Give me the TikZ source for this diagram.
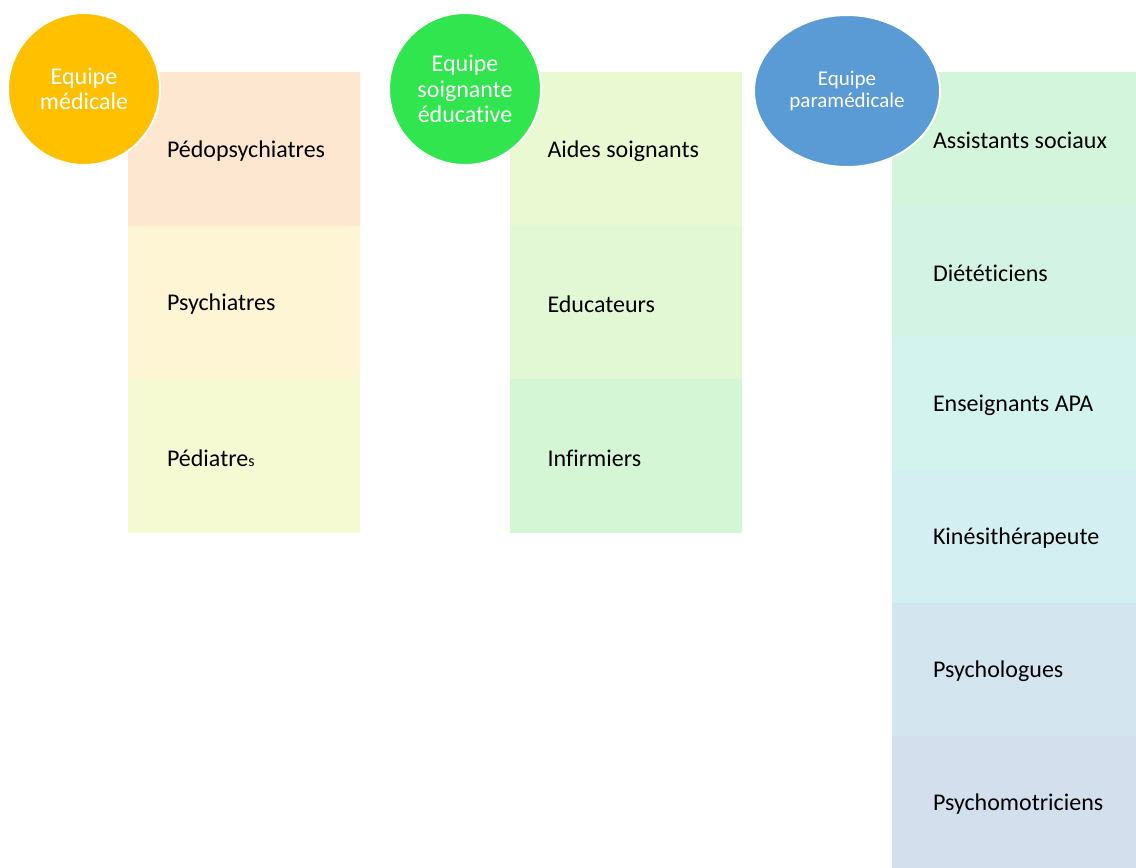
\documentclass[tikz,border=0pt]{standalone}
\usepackage{fontspec}
\setmainfont{Carlito}[Ligatures={NoCommon}]
\usetikzlibrary{shapes.geometric}
\definecolor{cA1}{HTML}{FDE7D0}
\definecolor{cA2}{HTML}{FDF5D3}
\definecolor{cA3}{HTML}{F5FAD2}
\definecolor{cB1}{HTML}{EBF9D3}
\definecolor{cB2}{HTML}{E2F7D4}
\definecolor{cB3}{HTML}{D5F6D5}
\definecolor{cC1}{HTML}{D3F5DC}
\definecolor{cC2}{HTML}{D3F4E4}
\definecolor{cC3}{HTML}{D3F3EE}
\definecolor{cC4}{HTML}{D3EFF2}
\definecolor{cC5}{HTML}{D3E6F0}
\definecolor{cC6}{HTML}{D4DFEE}
\definecolor{orangeC}{HTML}{FFC000}
\definecolor{greenC}{HTML}{30E54D}
\definecolor{blueC}{HTML}{5B9BD5}
\tikzset{
  cell/.style={draw=none, rectangle, inner sep=0pt},
  cellA/.style={cell, minimum width=232pt, minimum height=153.7pt},
  cellC/.style={cell, minimum width=244pt, minimum height=132.7pt},
  lbl/.style={anchor=west, inner sep=0pt, font=\fontsize{24}{28}\selectfont, text=black},
  team/.style={draw=white, line width=2pt, text=white, align=center, inner sep=0pt},
}
\begin{document}
\begin{tikzpicture}[x=1pt,y=-1pt]
\useasboundingbox (0,0) rectangle (1136,868);
% column 1
\node[cellA, fill=cA1] (a1) at (244,149) {};
\node[cellA, fill=cA2] (a2) at (244,302.5) {};
\node[cellA, fill=cA3] (a3) at (244,456) {};
\node[lbl] (ta1) at ([xshift=39pt,yshift=-2pt]a1.west) {Pédopsychiatres};
\node[lbl] (ta2) at ([xshift=39pt,yshift=-2pt]a2.west) {Psychiatres};
\node[lbl] (ta3) at ([xshift=39pt,yshift=-2pt]a3.west) {Pédiatre{\fontsize{16}{18}\selectfont s}};
% column 2
\node[cellA, fill=cB1] (b1) at (625.5,149) {};
\node[cellA, fill=cB2] (b2) at (625.5,302.5) {};
\node[cellA, fill=cB3] (b3) at (625.5,456) {};
\node[lbl] (tb1) at ([xshift=38pt,yshift=-2pt]b1.west) {Aides soignants};
\node[lbl] (tb2) at ([xshift=38pt,yshift=-2pt]b2.west) {Educateurs};
\node[lbl] (tb3) at ([xshift=38pt,yshift=-2pt]b3.west) {Infirmiers};
% column 3
\node[cellC, fill=cC1] (c1) at (1014,138.4) {};
\node[cellC, fill=cC2] (c2) at (1014,271.1) {};
\node[cellC, fill=cC3] (c3) at (1014,403.8) {};
\node[cellC, fill=cC4] (c4) at (1014,536.5) {};
\node[cellC, fill=cC5] (c5) at (1014,669.2) {};
\node[cellC, fill=cC6] (c6) at (1014,801.9) {};
\node[lbl] (tc1) at ([xshift=41pt,yshift=-2pt]c1.west) {Assistants sociaux};
\node[lbl] (tc2) at ([xshift=41pt,yshift=-2pt]c2.west) {Diététiciens};
\node[lbl] (tc3) at ([xshift=41pt,yshift=-2pt]c3.west) {Enseignants APA};
\node[lbl] (tc4) at ([xshift=41pt,yshift=-2pt]c4.west) {Kinésithérapeute};
\node[lbl] (tc5) at ([xshift=41pt,yshift=-2pt]c5.west) {Psychologues};
\node[lbl] (tc6) at ([xshift=41pt,yshift=-2pt]c6.west) {Psychomotriciens};
% team bubbles
\node[team, circle, fill=orangeC, minimum size=152pt,
  font=\fontsize{24}{25}\selectfont] (ga) at (84,89) {Equipe\\médicale};
\node[team, circle, fill=greenC, minimum size=152pt,
  font=\fontsize{24}{25.5}\selectfont] (gb) at (465,89) {Equipe\\soignante\\éducative};
\node[team, ellipse, fill=blueC, minimum width=186pt, minimum height=152pt,
  font=\fontsize{21}{22}\selectfont] (gc) at (847,91) {Equipe\\paramédicale};
\end{tikzpicture}
\end{document}
